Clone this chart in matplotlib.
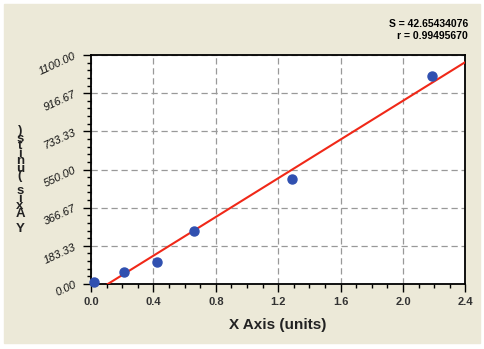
import numpy as np
import matplotlib
matplotlib.use("Agg")
import matplotlib.pyplot as plt
from matplotlib.patches import Rectangle
from matplotlib.ticker import AutoMinorLocator, FixedLocator

# standard curve data
x_vals = [0.021, 0.214, 0.422, 0.657, 1.285, 2.183]
y_vals = [8, 56, 104, 254, 502, 1000]
y_ticks = list(np.linspace(0, 1100, 7))
x_ticks = [0.0, 0.4, 0.8, 1.2, 1.6, 2.0, 2.4]
stats_lines = ["S = 42.65434076", "r = 0.99495670"]

W, H = 485, 349
fig = plt.figure(figsize=(W / 100, H / 100), dpi=100, facecolor="white")
fig.patches.append(Rectangle((4 / W, 6 / H), 476 / W, 339 / H,
                             transform=fig.transFigure, color="#ECE9D8", zorder=-5))

ax = fig.add_axes([91 / W, 1 - 284 / H, 374.5 / W, 229 / H])
ax.set_facecolor("white")

slope, icept = np.polyfit(x_vals, y_vals, 1)
x0 = -icept / slope
fx = np.array([x0, 2.4])
ax.plot(fx, slope * fx + icept, color="#F02818", lw=1.5, zorder=3)
ax.plot(x_vals, y_vals, "o", color="#3050B0", ms=6.5, zorder=4, clip_on=False)

ax.set_xlim(0, 2.4)
ax.set_ylim(0, 1100)
ax.xaxis.set_major_locator(FixedLocator(x_ticks))
ax.yaxis.set_major_locator(FixedLocator(y_ticks))
ax.xaxis.set_minor_locator(AutoMinorLocator(4))
ax.yaxis.set_minor_locator(AutoMinorLocator(5))
ax.grid(True, which="major", ls=(0, (5, 3)), color="#999999", lw=0.9)

for s in ax.spines.values():
    s.set_linewidth(1.3)
ax.tick_params(which="major", length=6, width=1, direction="out")
ax.tick_params(which="minor", length=3, width=1, direction="out")

ax.set_xticklabels(["%.1f" % v for v in x_ticks], fontsize=8, fontweight="bold",
                   color="#333333", family="Liberation Sans")
ax.set_yticklabels(["%.2f" % v for v in y_ticks], fontsize=8, style="italic",
                   rotation=25, color="#111111", family="Liberation Sans")

fig.text(278 / W, 1 - 325 / H, "X Axis (units)", ha="center", va="center",
         fontsize=11, fontweight="bold", color="#222222", family="Liberation Sans")

fig.text(20 / W, 1 - 180 / H, "\n".join(reversed("Y Axis (units)")),
         ha="center", va="center", fontsize=9.5, fontweight="bold",
         linespacing=0.5, color="#222222", family="Liberation Sans")

fig.text(468 / W, 1 - 24 / H, stats_lines[0], ha="right", va="center",
         fontsize=7.5, fontweight="bold", family="Liberation Sans")
fig.text(468 / W, 1 - 36 / H, stats_lines[1], ha="right", va="center",
         fontsize=7.5, fontweight="bold", family="Liberation Sans")

fig.savefig("out.png", dpi=100, facecolor=fig.get_facecolor())
